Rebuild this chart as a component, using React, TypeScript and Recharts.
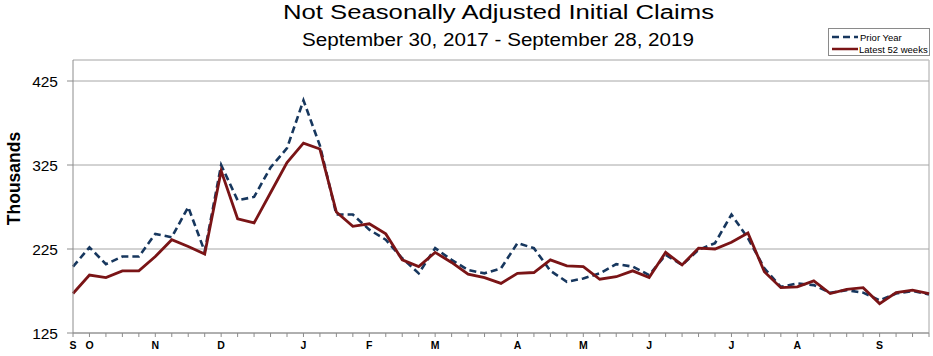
import React from 'react';
import { LineChart, Line, XAxis, YAxis, CartesianGrid, ReferenceLine } from 'recharts';

const monthLabels: Record<number, string> = { 0: 'S', 1: 'O', 5: 'N', 9: 'D', 14: 'J', 18: 'F', 22: 'M', 27: 'A', 31: 'M', 35: 'J', 40: 'J', 44: 'A', 49: 'S' };

const latest = [172, 194, 191, 199, 199, 216, 236, 228, 219, 318, 261, 256, 292, 328, 351, 344, 269, 252, 255, 243, 212, 204, 221, 209, 195, 191, 184, 196, 197, 212, 205, 204, 189, 192, 199, 191, 221, 206, 226, 225, 233, 244, 198, 179, 180, 187, 172, 177, 179, 160, 173, 176, 172];

const prior = [204, 227, 207, 216, 216, 243, 239, 275, 222, 325, 283, 287, 322, 345, 402, 348, 266, 266, 248, 236, 214, 196, 226, 212, 200, 196, 202, 232, 226, 199, 186, 190, 196, 207, 204, 194, 218, 206, 224, 232, 266, 238, 202, 180, 184, 182, 173, 176, 173, 164, 172, 175, 171];

const yTicks = [125, 225, 325, 425];

const data = latest.map((v, i) => ({ i, latest: v, prior: prior[i] }));
const xTicks = data.map((d) => d.i);

const FONT = 'Liberation Sans, Arial, sans-serif';
const BLUE = '#17375E';
const RED = '#7A1416';
const GRID = '#A6A6A6';

const LegendBox = () => (
  <div style={{ position: 'absolute', left: 828, top: 28, width: 102, height: 28, border: '1px solid #8a8a8a', background: '#fff', boxSizing: 'border-box' }}>
    <svg width={100} height={26} style={{ display: 'block' }}>
      <line x1={3} y1={8} x2={29} y2={8} stroke={BLUE} strokeWidth={2.5} strokeDasharray="7 4" />
      <text x={31} y={11.5} fontSize={9.5} fontFamily={FONT} fill="#000">Prior Year</text>
      <line x1={3} y1={20} x2={29} y2={20} stroke={RED} strokeWidth={2.5} />
      <text x={30} y={23.5} fontSize={9.5} fontFamily={FONT} fill="#000">Latest 52 weeks</text>
    </svg>
  </div>
);

export default function App() {
  return (
    <div style={{ position: 'absolute', left: 0, top: 0, width: 933, height: 356, background: '#fff' }}>
      <svg width={933} height={60} style={{ position: 'absolute', left: 0, top: 0 }}>
        <text x={498.5} y={19} textAnchor="middle" fontSize={20} fontFamily={FONT} fill="#000" textLength={431} lengthAdjust="spacingAndGlyphs">Not Seasonally Adjusted Initial Claims</text>
        <text x={498} y={46} textAnchor="middle" fontSize={17.5} fontFamily={FONT} fill="#000" textLength={392} lengthAdjust="spacingAndGlyphs">September 30, 2017 - September 28, 2019</text>
      </svg>
      <LineChart width={933} height={356} data={data} margin={{ top: 60, right: 4, bottom: 0, left: 0 }} style={{ position: 'absolute', left: 0, top: 0 }}>
        <CartesianGrid vertical={false} stroke={GRID} strokeWidth={1} />
        <XAxis
          dataKey="i"
          type="number"
          domain={[0, 52]}
          ticks={xTicks}
          interval={0}
          height={23}
          tickSize={4}
          tickMargin={5}
          axisLine={{ stroke: '#8c8c8c' }}
          tickLine={{ stroke: '#8c8c8c' }}
          tickFormatter={(v: number) => monthLabels[v] ?? ''}
          tick={{ fontSize: 10.5, fontWeight: 'bold', fontFamily: FONT, fill: '#000' }}
        />
        <YAxis
          type="number"
          domain={[125, 450]}
          ticks={yTicks}
          width={73}
          tickSize={6}
          tickMargin={9}
          axisLine={{ stroke: '#8c8c8c' }}
          tickLine={{ stroke: '#8c8c8c' }}
          tick={{ fontSize: 15.5, fontFamily: FONT, fill: '#000' }}
          label={{ value: 'Thousands', angle: -90, position: 'insideLeft', offset: 0, style: { fontSize: 17.5, fontWeight: 'bold', fontFamily: FONT, fill: '#000', textAnchor: 'middle' }, dx: 14, dy: -18 }}
        />
        <ReferenceLine x={52} stroke={GRID} strokeWidth={1} />
        <ReferenceLine y={450} stroke="#d0d0d0" strokeWidth={1} />
        <Line dataKey="prior" stroke={BLUE} strokeWidth={2.6} strokeDasharray="7 4" dot={false} isAnimationActive={false} />
        <Line dataKey="latest" stroke={RED} strokeWidth={2.8} dot={false} isAnimationActive={false} />
      </LineChart>
      <LegendBox />
    </div>
  );
}
